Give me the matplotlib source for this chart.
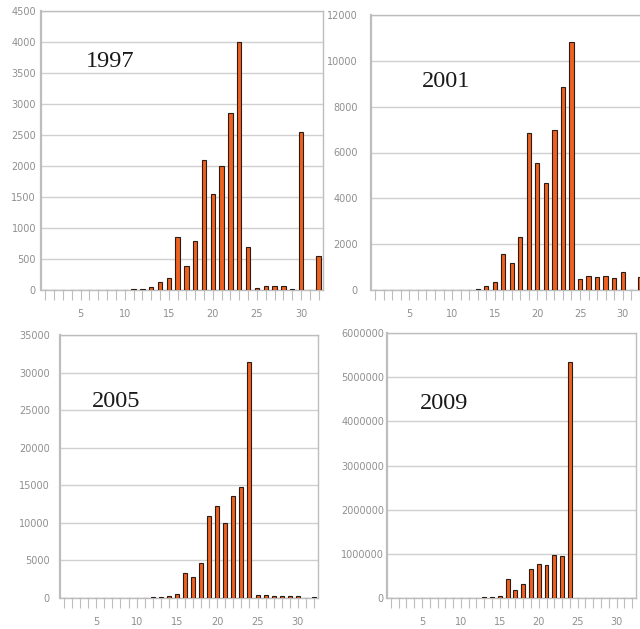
import matplotlib
matplotlib.use("Agg")
import matplotlib.pyplot as plt
import numpy as np

categories = list(range(1, 33))

v1997 = [0, 0, 0, 0, 0, 0, 0, 0, 4, 6, 9, 16, 43, 134, 188, 860, 382, 785,
         2102, 1554, 1995, 2850, 4000, 694, 32, 70, 70, 59, 21, 2554, 0, 554]
v2001 = [0, 0, 0, 0, 0, 0, 0, 8, 10, 12, 14, 20, 60, 190, 335, 1570, 1178, 2298,
         6851, 5542, 4655, 6982, 8858, 10807, 465, 611, 553, 596, 538, 800, 0, 553]
v2005 = [0, 0, 0, 0, 0, 0, 0, 30, 35, 40, 45, 90, 177, 310, 531, 3322, 2746, 4694,
         10894, 12223, 10008, 13552, 14748, 31444, 399, 399, 266, 221, 266, 266, 0, 133]
v2009 = [0, 0, 0, 0, 0, 0, 0, 3000, 3000, 3000, 3000, 5000, 15000, 22000, 45000,
         422000, 181000, 316000, 663000, 776000, 745000, 964000, 949000, 5339000,
         10000, 10000, 5000, 5000, 10000, 5000, 3000, 3000]

years = ["1997", "2001", "2005", "2009"]
series = [v1997, v2001, v2005, v2009]
ymax = [4500, 12000, 35000, 6000000]
ystep = [500, 2000, 5000, 1000000]
xtick_labels = [5, 10, 15, 20, 25, 30]

W, H = 640, 629
fig = plt.figure(figsize=(W / 100, H / 100), dpi=100)

# pixel boxes: left, right, top, bottom
boxes = [(41, 323, 11, 290), (371, 644, 15, 290), (60, 318, 335, 598), (387, 636, 333, 598)]
ypads = [5, 13, 10, 3]
text_pos = [(86, 67), (422, 87), (92, 407), (420, 409)]

bar_color = "#EE6121"
edge_color = "#2b1d14"
grid_color = "#d0d0d0"
spine_color = "#bdbdbd"
label_color = "#8f8f8f"

for i in range(4):
    l, r, t, b = boxes[i]
    ax = fig.add_axes([l / W, 1 - b / H, (r - l) / W, (b - t) / H])
    ax.bar(categories, series[i], width=0.5, color=bar_color, edgecolor=edge_color,
           linewidth=0.8, zorder=3)
    ax.set_xlim(0.5, 32.5)
    ax.set_ylim(0, ymax[i])
    ax.set_yticks(np.arange(0, ymax[i] + 1, ystep[i]))
    ax.set_yticklabels([str(int(v)) for v in np.arange(0, ymax[i] + 1, ystep[i])])
    ax.yaxis.grid(True, color=grid_color, linewidth=1.0, zorder=0)
    ax.set_axisbelow(True)
    ax.set_xticks(categories)
    ax.set_xticklabels([str(c) if c in xtick_labels else "" for c in categories])
    ax.tick_params(axis="x", length=7, width=0.8, color=spine_color, labelsize=7,
                   labelcolor=label_color, pad=7)
    ax.tick_params(axis="y", length=0, labelsize=7, labelcolor=label_color,
                   pad=ypads[i] * 0.72)
    for s in ax.spines.values():
        s.set_color(spine_color)
        s.set_linewidth(1.0)
    ax.spines["left"].set_linewidth(1.6)
    for lab in ax.get_xticklabels() + ax.get_yticklabels():
        lab.set_fontfamily("DejaVu Sans")
    tx, ty = text_pos[i]
    fig.text(tx / W, 1 - ty / H, years[i], fontsize=17.5, family="Liberation Serif",
             color="#1a1a1a", va="baseline", ha="left")

fig.savefig("out.png", dpi=100)
